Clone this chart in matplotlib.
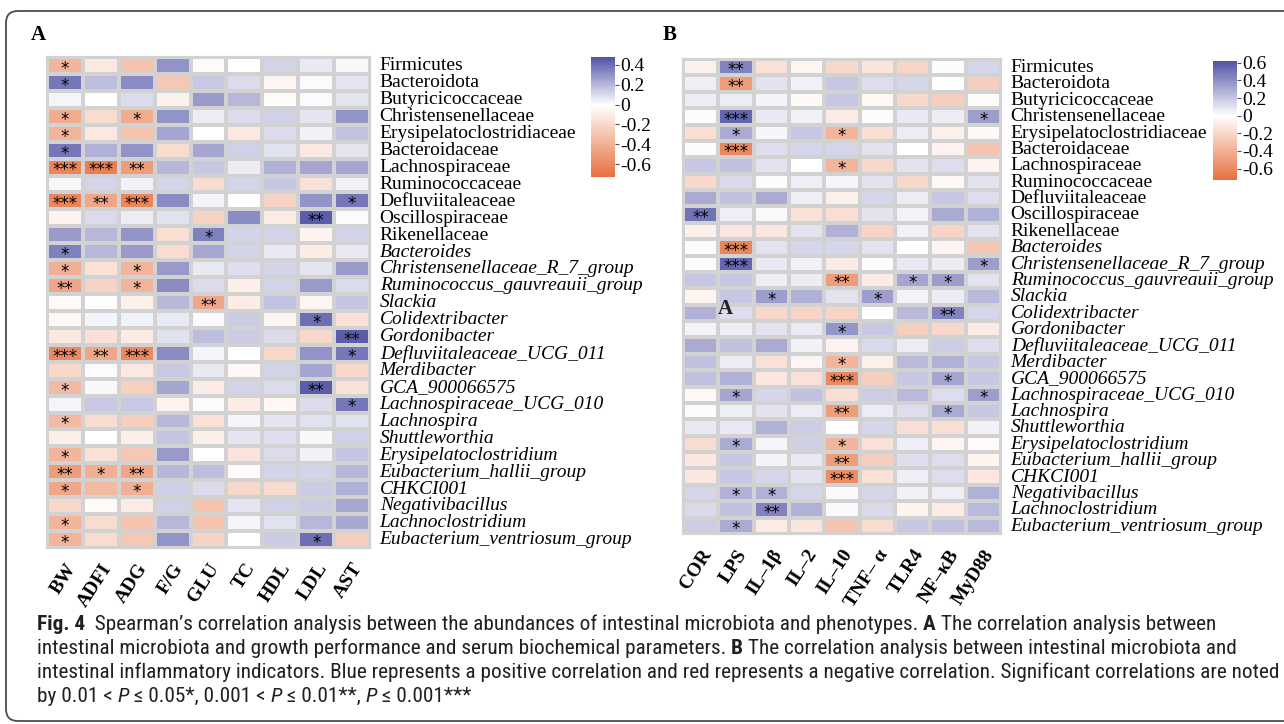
import numpy as np
import matplotlib
matplotlib.use("Agg")
import matplotlib.pyplot as plt
from matplotlib.colors import LinearSegmentedColormap, Normalize
from matplotlib.patches import FancyBboxPatch
from matplotlib.transforms import IdentityTransform
from matplotlib import font_manager

W, H = 1284, 724

taxa = ["Firmicutes", "Bacteroidota", "Butyricicoccaceae", "Christensenellaceae",
        "Erysipelatoclostridiaceae", "Bacteroidaceae", "Lachnospiraceae",
        "Ruminococcaceae", "Defluviitaleaceae", "Oscillospiraceae", "Rikenellaceae",
        "Bacteroides", "Christensenellaceae_R_7_group", "Ruminococcus_gauvreauii_group",
        "Slackia", "Colidextribacter", "Gordonibacter", "Defluviitaleaceae_UCG_011",
        "Merdibacter", "GCA_900066575", "Lachnospiraceae_UCG_010", "Lachnospira",
        "Shuttleworthia", "Erysipelatoclostridium", "Eubacterium_hallii_group",
        "CHKCI001", "Negativibacillus", "Lachnoclostridium",
        "Eubacterium_ventriosum_group"]
n_plain = 11  # first 11 names are families/phyla (upright), the rest genera (italic)

cols_a = ["BW", "ADFI", "ADG", "F/G", "GLU", "TC", "HDL", "LDL", "AST"]
cols_b = ["COR", "LPS", "IL\u20131\u03b2", "IL\u20132", "IL\u201310", "TNF\u2013 \u03b1",
          "TLR4", "NF\u2013\u03baB", "MyD88"]

# Spearman rho, panel A (rows = taxa, cols = cols_a)
rho_a = [
    [-0.38, -0.12, -0.30, 0.30, -0.03, 0.00, 0.12, 0.06, 0.02],
    [0.38, 0.18, 0.32, -0.28, 0.15, 0.10, -0.05, 0.01, 0.07],
    [0.03, 0.00, 0.10, -0.07, 0.28, 0.20, -0.03, 0.01, 0.07],
    [-0.42, -0.18, -0.42, 0.30, 0.05, 0.10, 0.13, 0.07, 0.30],
    [-0.38, -0.12, -0.30, 0.25, 0.00, -0.12, 0.10, 0.04, 0.17],
    [0.38, 0.22, 0.30, -0.18, 0.25, 0.13, 0.08, -0.12, 0.07],
    [-0.62, -0.65, -0.50, 0.20, 0.15, 0.05, 0.22, 0.25, 0.25],
    [0.02, 0.12, 0.04, 0.12, -0.18, 0.12, 0.15, -0.15, 0.04],
    [-0.62, -0.45, -0.62, 0.32, 0.03, 0.00, -0.22, 0.30, 0.38],
    [-0.06, 0.10, 0.05, 0.08, -0.22, 0.32, -0.10, 0.45, 0.01],
    [0.28, 0.20, 0.30, -0.17, 0.35, 0.12, 0.12, -0.06, 0.12],
    [0.35, 0.20, 0.28, -0.18, 0.24, 0.12, 0.06, -0.10, 0.06],
    [-0.40, -0.15, -0.38, 0.28, 0.06, 0.09, 0.12, 0.07, 0.28],
    [-0.45, -0.22, -0.38, 0.32, 0.10, -0.08, 0.12, 0.28, 0.10],
    [-0.03, 0.00, -0.07, 0.20, -0.45, -0.10, 0.17, -0.05, 0.16],
    [-0.04, 0.03, 0.04, 0.06, 0.01, 0.14, -0.05, 0.40, -0.15],
    [-0.12, -0.15, -0.10, 0.08, 0.18, 0.14, 0.10, -0.20, 0.45],
    [-0.60, -0.45, -0.60, 0.32, 0.03, 0.00, -0.20, 0.30, 0.38],
    [-0.20, 0.01, -0.12, 0.15, 0.06, -0.04, 0.12, 0.25, -0.20],
    [-0.35, 0.02, -0.24, 0.25, -0.10, 0.12, 0.10, 0.45, -0.15],
    [0.03, 0.15, 0.15, -0.06, 0.01, -0.10, -0.04, 0.10, 0.38],
    [-0.35, -0.18, -0.25, 0.20, -0.15, 0.03, 0.07, 0.08, 0.08],
    [-0.08, 0.00, -0.08, 0.16, -0.08, 0.07, 0.09, 0.02, 0.13],
    [-0.38, -0.15, -0.28, 0.28, 0.00, -0.14, 0.10, 0.04, 0.16],
    [-0.50, -0.40, -0.45, 0.20, 0.18, -0.02, 0.12, 0.12, 0.20],
    [-0.45, -0.35, -0.40, 0.13, 0.10, -0.20, -0.18, 0.14, 0.22],
    [-0.20, -0.03, -0.10, 0.13, -0.30, 0.07, 0.13, 0.14, 0.24],
    [-0.38, -0.18, -0.30, 0.20, -0.30, 0.03, 0.08, 0.20, 0.24],
    [-0.38, -0.18, -0.28, 0.30, -0.22, 0.00, 0.14, 0.40, -0.25],
]
stars_a = [
    ["*", "", "", "", "", "", "", "", ""],
    ["*", "", "", "", "", "", "", "", ""],
    ["", "", "", "", "", "", "", "", ""],
    ["*", "", "*", "", "", "", "", "", ""],
    ["*", "", "", "", "", "", "", "", ""],
    ["*", "", "", "", "", "", "", "", ""],
    ["***", "***", "**", "", "", "", "", "", ""],
    ["", "", "", "", "", "", "", "", ""],
    ["***", "**", "***", "", "", "", "", "", "*"],
    ["", "", "", "", "", "", "", "**", ""],
    ["", "", "", "", "*", "", "", "", ""],
    ["*", "", "", "", "", "", "", "", ""],
    ["*", "", "*", "", "", "", "", "", ""],
    ["**", "", "*", "", "", "", "", "", ""],
    ["", "", "", "", "**", "", "", "", ""],
    ["", "", "", "", "", "", "", "*", ""],
    ["", "", "", "", "", "", "", "", "**"],
    ["***", "**", "***", "", "", "", "", "", "*"],
    ["", "", "", "", "", "", "", "", ""],
    ["*", "", "", "", "", "", "", "**", ""],
    ["", "", "", "", "", "", "", "", "*"],
    ["*", "", "", "", "", "", "", "", ""],
    ["", "", "", "", "", "", "", "", ""],
    ["*", "", "", "", "", "", "", "", ""],
    ["**", "*", "**", "", "", "", "", "", ""],
    ["*", "", "*", "", "", "", "", "", ""],
    ["", "", "", "", "", "", "", "", ""],
    ["*", "", "", "", "", "", "", "", ""],
    ["*", "", "", "", "", "", "", "*", ""],
]

# Spearman rho, panel B (rows = taxa, cols = cols_b)
rho_b = [
    [-0.08, 0.45, -0.15, -0.05, -0.20, -0.13, -0.22, 0.01, 0.15],
    [0.06, -0.50, 0.10, 0.05, 0.20, 0.12, 0.15, 0.00, -0.25],
    [0.07, 0.07, 0.04, -0.03, 0.20, -0.04, -0.20, -0.25, -0.02],
    [0.01, 0.55, 0.08, 0.05, -0.10, 0.01, 0.08, 0.07, 0.35],
    [-0.17, 0.30, 0.03, 0.20, -0.38, -0.17, 0.07, -0.08, -0.03],
    [0.01, -0.60, 0.12, 0.15, 0.15, 0.10, 0.00, -0.07, -0.30],
    [0.20, 0.22, 0.10, 0.00, -0.38, -0.20, 0.10, 0.12, -0.06],
    [-0.20, 0.13, 0.01, 0.06, 0.03, 0.10, -0.20, -0.04, 0.10],
    [0.30, 0.22, 0.30, 0.06, -0.08, 0.15, 0.07, 0.20, 0.12],
    [0.50, 0.06, 0.02, -0.15, -0.17, 0.10, 0.04, 0.30, 0.28],
    [-0.08, -0.12, -0.12, 0.10, 0.28, -0.22, 0.05, -0.22, 0.10],
    [0.01, -0.62, 0.10, 0.15, 0.15, 0.10, 0.00, -0.06, -0.28],
    [0.01, 0.55, 0.08, 0.05, -0.10, 0.01, 0.08, 0.07, 0.35],
    [0.20, 0.20, 0.06, 0.07, -0.50, -0.10, 0.32, 0.35, 0.10],
    [-0.06, 0.20, 0.35, 0.28, 0.10, 0.35, 0.04, 0.07, 0.25],
    [0.28, 0.12, -0.20, -0.22, -0.22, 0.00, 0.25, 0.45, 0.15],
    [0.04, 0.06, 0.10, 0.08, 0.38, 0.20, -0.25, -0.20, -0.10],
    [0.30, 0.22, 0.30, 0.05, -0.07, 0.14, 0.07, 0.18, 0.12],
    [0.22, 0.07, -0.15, -0.05, -0.38, -0.08, 0.25, 0.28, 0.20],
    [0.22, 0.28, -0.12, -0.15, -0.60, -0.25, 0.20, 0.32, 0.20],
    [-0.04, 0.32, 0.15, 0.22, -0.17, 0.18, 0.25, 0.12, 0.35],
    [0.01, 0.06, 0.10, 0.07, -0.50, 0.07, 0.12, 0.30, 0.20],
    [0.08, 0.08, 0.28, 0.18, 0.00, 0.15, -0.17, -0.17, 0.05],
    [-0.18, 0.30, 0.03, 0.17, -0.38, -0.15, 0.06, -0.05, -0.02],
    [-0.12, 0.20, 0.04, 0.08, -0.50, -0.25, 0.12, 0.12, -0.06],
    [-0.12, 0.20, 0.15, 0.10, -0.58, -0.15, 0.06, 0.12, -0.12],
    [0.15, 0.28, 0.28, 0.15, 0.02, 0.15, 0.05, 0.06, 0.28],
    [0.13, 0.22, 0.45, 0.28, 0.02, 0.13, -0.06, -0.10, 0.25],
    [0.18, 0.30, -0.10, -0.13, -0.30, -0.18, 0.20, 0.22, 0.25],
]
stars_b = [
    ["", "**", "", "", "", "", "", "", ""],
    ["", "**", "", "", "", "", "", "", ""],
    ["", "", "", "", "", "", "", "", ""],
    ["", "***", "", "", "", "", "", "", "*"],
    ["", "*", "", "", "*", "", "", "", ""],
    ["", "***", "", "", "", "", "", "", ""],
    ["", "", "", "", "*", "", "", "", ""],
    ["", "", "", "", "", "", "", "", ""],
    ["", "", "", "", "", "", "", "", ""],
    ["**", "", "", "", "", "", "", "", ""],
    ["", "", "", "", "", "", "", "", ""],
    ["", "***", "", "", "", "", "", "", ""],
    ["", "***", "", "", "", "", "", "", "*"],
    ["", "", "", "", "**", "", "*", "*", ""],
    ["", "", "*", "", "", "*", "", "", ""],
    ["", "", "", "", "", "", "", "**", ""],
    ["", "", "", "", "*", "", "", "", ""],
    ["", "", "", "", "", "", "", "", ""],
    ["", "", "", "", "*", "", "", "", ""],
    ["", "", "", "", "***", "", "", "*", ""],
    ["", "*", "", "", "", "", "", "", "*"],
    ["", "", "", "", "**", "", "", "*", ""],
    ["", "", "", "", "", "", "", "", ""],
    ["", "*", "", "", "*", "", "", "", ""],
    ["", "", "", "", "**", "", "", "", ""],
    ["", "", "", "", "***", "", "", "", ""],
    ["", "*", "*", "", "", "", "", "", ""],
    ["", "", "**", "", "", "", "", "", ""],
    ["", "*", "", "", "", "", "", "", ""],
]

range_a = (-0.73, 0.48)
range_b = (-0.73, 0.62)
ticks_a = [0.4, 0.2, 0, -0.2, -0.4, -0.6]
ticks_b = [0.6, 0.4, 0.2, 0, -0.2, -0.4, -0.6]

caption = [
    [("Fig. 4", "b"), ("  Spearman\u2019s correlation analysis between the abundances of intestinal "
                      "microbiota and phenotypes. ", "n"), ("A", "b"),
     (" The correlation analysis between", "n")],
    [("intestinal microbiota and growth performance and serum biochemical parameters. ", "n"),
     ("B", "b"), (" The correlation analysis between intestinal microbiota and", "n")],
    [("intestinal inflammatory indicators. Blue represents a positive correlation and red "
      "represents a negative correlation. Significant correlations are noted", "n")],
    [("by 0.01 < ", "n"), ("P", "i"), (" \u2264 0.05*, 0.001 < ", "n"), ("P", "i"),
     (" \u2264 0.01**, ", "n"), ("P", "i"), (" \u2264 0.001***", "n")],
]

SERIF = "Liberation Serif"
ORANGE = "#E6703F"
BLUE = "#5153A5"
GRID = "#d2d2d2"

installed = {f.name for f in font_manager.fontManager.ttflist}
CAP_FONT = next((f for f in ["Liberation Sans Narrow", "Roboto Condensed", "Open Sans"]
                 if f in installed), "DejaVu Sans")


def rect(x0, y0, x1, y1):
    return [x0 / W, 1 - y1 / H, (x1 - x0) / W, (y1 - y0) / H]


def corr_cmap(vmin, vmax):
    z = -vmin / (vmax - vmin)
    return LinearSegmentedColormap.from_list("rwb", [(0, ORANGE), (z, "white"), (1, BLUE)])


def heatmap(box, cbox, rho, stars, cols, vrange, ticks):
    data = np.array(rho)
    nr, nc = data.shape
    ax = fig.add_axes(rect(*box))
    norm = Normalize(*vrange)
    mesh = ax.pcolormesh(np.arange(nc + 1), np.arange(nr + 1), data,
                         cmap=corr_cmap(*vrange), norm=norm,
                         edgecolors=GRID, linewidth=1.6)
    ax.set_xlim(0, nc)
    ax.set_ylim(nr, 0)
    for s in ax.spines.values():
        s.set_color(GRID)
        s.set_linewidth(1.6)

    ax.yaxis.tick_right()
    ax.set_yticks(np.arange(nr) + 0.4)
    ax.set_yticklabels(taxa, fontsize=14, family=SERIF)
    for i, lab in enumerate(ax.get_yticklabels()):
        if i >= n_plain:
            lab.set_fontstyle("italic")
    ax.set_xticks(np.arange(nc) + 0.5)
    ax.set_xticklabels(cols, fontsize=14, family=SERIF, fontweight="bold",
                       rotation=57, ha="right", va="top", rotation_mode="anchor")
    ax.tick_params(axis="both", length=0)
    ax.tick_params(axis="y", pad=7)
    ax.tick_params(axis="x", pad=9)

    for i in range(nr):
        for j in range(nc):
            if stars[i][j]:
                ax.text(j + 0.5, i + 0.7, stars[i][j], ha="center", va="center",
                        fontsize=12, color="black", family="DejaVu Sans")

    cax = fig.add_axes(rect(*cbox))
    cb = fig.colorbar(mesh, cax=cax, ticks=ticks)
    cb.outline.set_visible(False)
    cb.ax.set_yticklabels([f"{t:g}" for t in ticks], family=SERIF, fontsize=14)
    cb.ax.tick_params(length=3, width=0.8, pad=1, color="#555555")
    return ax


def rich_line(pieces, x, y, size):
    r = fig.canvas.get_renderer()
    for text, style in pieces:
        kw = dict(fontsize=size, family=CAP_FONT, color="#231f20",
                  fontweight="bold" if style == "b" else "normal",
                  fontstyle="italic" if style == "i" else "normal")
        t = fig.text(x / W, 1 - y / H, text, va="center", ha="left", **kw)
        a = fig.text(0, 0, "|" + text + "|", **kw)
        b = fig.text(0, 0, "||", **kw)
        x += a.get_window_extent(r).width - b.get_window_extent(r).width
        a.remove()
        b.remove()
    return x


fig = plt.figure(figsize=(W / 100, H / 100), dpi=100)

box = FancyBboxPatch((6, 3), 1320, 710, boxstyle="round,pad=0,rounding_size=12",
                     transform=IdentityTransform(), fill=False, ec="#4d4d4d", lw=1.3)
fig.patches.append(box)

fig.text(38 / W, 1 - 35 / H, "A", family=SERIF, fontweight="bold", fontsize=15,
         ha="center", va="center")
fig.text(670 / W, 1 - 35 / H, "B", family=SERIF, fontweight="bold", fontsize=15,
         ha="center", va="center")

heatmap((47, 57, 370, 548), (591, 57, 615, 177), rho_a, stars_a, cols_a, range_a, ticks_a)
ax_b = heatmap((683, 59, 1001, 534), (1213, 61, 1237, 180), rho_b, stars_b, cols_b,
               range_b, ticks_b)
# stray panel letter that sits on the LPS column of panel B
ax_b.text(1.2, 15.25, "A", family=SERIF, fontweight="bold", fontsize=15,
          ha="center", va="center", color="#222222")

# caption: size chosen so the longest line fits its width
probe = rich_line(caption[2], 0, -100, 10)
size = 10 * 1238 / probe
for t in list(fig.texts):
    if t.get_position()[1] > 1:
        t.remove()
for k, line in enumerate(caption):
    rich_line(line, 37, 624 + 24 * k, size)

fig.savefig("out.png", dpi=100)
